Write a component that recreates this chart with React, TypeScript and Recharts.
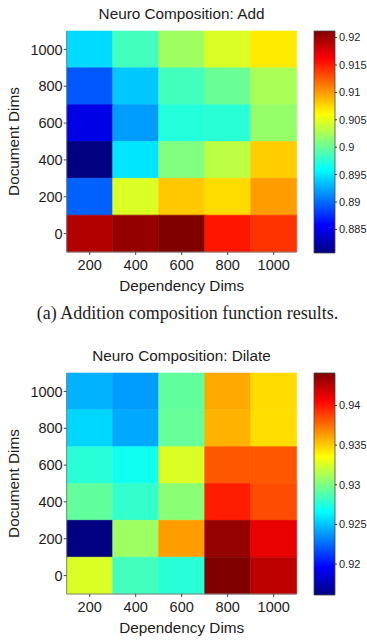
import React from 'react';
import { ComposedChart, Scatter, XAxis, YAxis, ReferenceArea, Label } from 'recharts';

// Grid axes
const dependencyDims = [200, 400, 600, 800, 1000];
const documentDims = [1000, 800, 600, 400, 200, 0]; // rows, top to bottom

// Accuracy per (document dims row, dependency dims column)
const addScores = [
  [0.8945, 0.8985, 0.9022, 0.9046, 0.9068],
  [0.8892, 0.8937, 0.8985, 0.9001, 0.9026],
  [0.8848, 0.892, 0.8973, 0.8975, 0.9018],
  [0.8807, 0.8949, 0.901, 0.9034, 0.908],
  [0.8896, 0.9046, 0.9082, 0.9074, 0.9099],
  [0.9192, 0.9204, 0.9212, 0.9153, 0.9141],
];
const dilateScores = [
  [0.9245, 0.9239, 0.9293, 0.936, 0.9346],
  [0.9255, 0.9242, 0.9294, 0.9357, 0.9345],
  [0.9277, 0.927, 0.9326, 0.9382, 0.9382],
  [0.9293, 0.928, 0.9304, 0.9398, 0.9385],
  [0.9161, 0.9309, 0.9363, 0.9435, 0.9412],
  [0.9326, 0.9284, 0.9277, 0.9441, 0.9424],
];

const addColorTicks = [0.885, 0.89, 0.895, 0.9, 0.905, 0.91, 0.915, 0.92];
const dilateColorTicks = [0.92, 0.925, 0.93, 0.935, 0.94];

const SANS = '"Liberation Sans", Arial, Helvetica, sans-serif';
const SERIF = '"Liberation Serif", "Times New Roman", serif';
const INK = '#1c1c1c';

// MATLAB-style jet colormap
function jet(t: number): string {
  const c = (v: number) => Math.max(0, Math.min(1, v));
  const r = c(1.5 - Math.abs(4 * t - 3));
  const g = c(1.5 - Math.abs(4 * t - 2));
  const b = c(1.5 - Math.abs(4 * t - 1));
  return `rgb(${Math.round(r * 255)},${Math.round(g * 255)},${Math.round(b * 255)})`;
}

const jetStops = [0, 0.125, 0.375, 0.625, 0.875, 1];

const Blank = () => <g />;

type PanelProps = {
  id: string;
  title: string;
  scores: number[][];
  colorTicks: number[];
  top: number;
};

function HeatPanel({ id, title, scores, colorTicks, top }: PanelProps) {
  const flat = scores.flat();
  const lo = Math.min(...flat);
  const hi = Math.max(...flat);
  const halfX = (dependencyDims[1] - dependencyDims[0]) / 2;
  const halfY = (documentDims[0] - documentDims[1]) / 2;
  const xMin = Math.min(...dependencyDims) - halfX;
  const xMax = Math.max(...dependencyDims) + halfX;
  const yMin = Math.min(...documentDims) - halfY;
  const yMax = Math.max(...documentDims) + halfY;
  const yTicks = [...documentDims].reverse();

  const cells = documentDims.flatMap((doc, r) =>
    dependencyDims.map((dep, c) => ({ dep, doc, value: scores[r][c] }))
  );

  return (
    <div style={{ position: 'absolute', left: 0, top, width: 367, height: 300, fontFamily: SANS }}>
      <div
        style={{
          position: 'absolute',
          left: 0,
          top: 4,
          width: 363,
          textAlign: 'center',
          fontSize: 15.3,
          lineHeight: '20px',
          color: INK,
        }}
      >
        {title}
      </div>

      <div style={{ position: 'absolute', left: 0, top: 0 }}>
        <ComposedChart width={300} height={300} margin={{ top: 31, right: 3.3, bottom: 0, left: 0 }}>
          <XAxis
            type="number"
            dataKey="dep"
            domain={[xMin, xMax]}
            ticks={dependencyDims}
            allowDataOverflow
            height={48}
            tickSize={3}
            tickMargin={5}
            axisLine={{ stroke: '#808080' }}
            tickLine={{ stroke: '#444' }}
            tick={{ fontSize: 14.5, fill: INK }}
          >
            <Label
              value="Dependency Dims"
              position="insideBottom"
              offset={9}
              style={{ fontSize: 15.3, fill: INK }}
            />
          </XAxis>
          <YAxis
            type="number"
            dataKey="doc"
            domain={[yMin, yMax]}
            ticks={yTicks}
            allowDataOverflow
            width={66.7}
            tickSize={3}
            tickMargin={1}
            axisLine={{ stroke: '#808080' }}
            tickLine={{ stroke: '#444' }}
            tick={{ fontSize: 14.5, fill: INK }}
          >
            <Label
              value="Document Dims"
              angle={-90}
              position="insideLeft"
              offset={14}
              style={{ fontSize: 15.3, fill: INK, textAnchor: 'middle' }}
            />
          </YAxis>
          {cells.map((cell) => {
            const color = jet((cell.value - lo) / (hi - lo));
            return (
              <ReferenceArea
                key={`${cell.dep}-${cell.doc}`}
                x1={cell.dep - halfX}
                x2={cell.dep + halfX}
                y1={cell.doc - halfY}
                y2={cell.doc + halfY}
                fill={color}
                fillOpacity={1}
                stroke={color}
                strokeWidth={0.6}
              />
            );
          })}
          <Scatter data={cells} isAnimationActive={false} shape={Blank} />
        </ComposedChart>
      </div>

      <div style={{ position: 'absolute', left: 300, top: 0 }}>
        <ComposedChart width={67} height={300} margin={{ top: 31, right: 0, bottom: 47, left: 14 }}>
          <defs>
            <linearGradient id={`jet-${id}`} x1="0" y1="1" x2="0" y2="0">
              {jetStops.map((s) => (
                <stop key={s} offset={s} stopColor={jet(s)} />
              ))}
            </linearGradient>
          </defs>
          <XAxis type="number" dataKey="x" domain={[0, 1]} hide />
          <YAxis
            type="number"
            dataKey="v"
            orientation="right"
            domain={[lo, hi]}
            ticks={colorTicks}
            allowDataOverflow
            width={32}
            tickSize={2}
            tickMargin={2}
            axisLine={false}
            tickLine={{ stroke: '#333' }}
            tick={{ fontSize: 11, fill: INK }}
          />
          <ReferenceArea
            x1={0}
            x2={1}
            y1={lo}
            y2={hi}
            fill={`url(#jet-${id})`}
            fillOpacity={1}
            stroke="#444"
            strokeWidth={0.8}
          />
          <Scatter
            data={[{ x: 0, v: lo }, { x: 1, v: hi }]}
            isAnimationActive={false}
            shape={Blank}
          />
        </ComposedChart>
      </div>
    </div>
  );
}

export default function App() {
  return (
    <div style={{ position: 'absolute', left: 0, top: 0, width: 367, height: 643, background: '#fff' }}>
      <HeatPanel id="add" title="Neuro Composition: Add" scores={addScores} colorTicks={addColorTicks} top={0} />
      <div
        style={{
          position: 'absolute',
          left: 8,
          top: 302,
          width: 359,
          textAlign: 'center',
          fontFamily: SERIF,
          fontSize: 18,
          lineHeight: '22px',
          color: '#222',
        }}
      >
        (a) Addition composition function results.
      </div>
      <HeatPanel
        id="dilate"
        title="Neuro Composition: Dilate"
        scores={dilateScores}
        colorTicks={dilateColorTicks}
        top={342}
      />
    </div>
  );
}
